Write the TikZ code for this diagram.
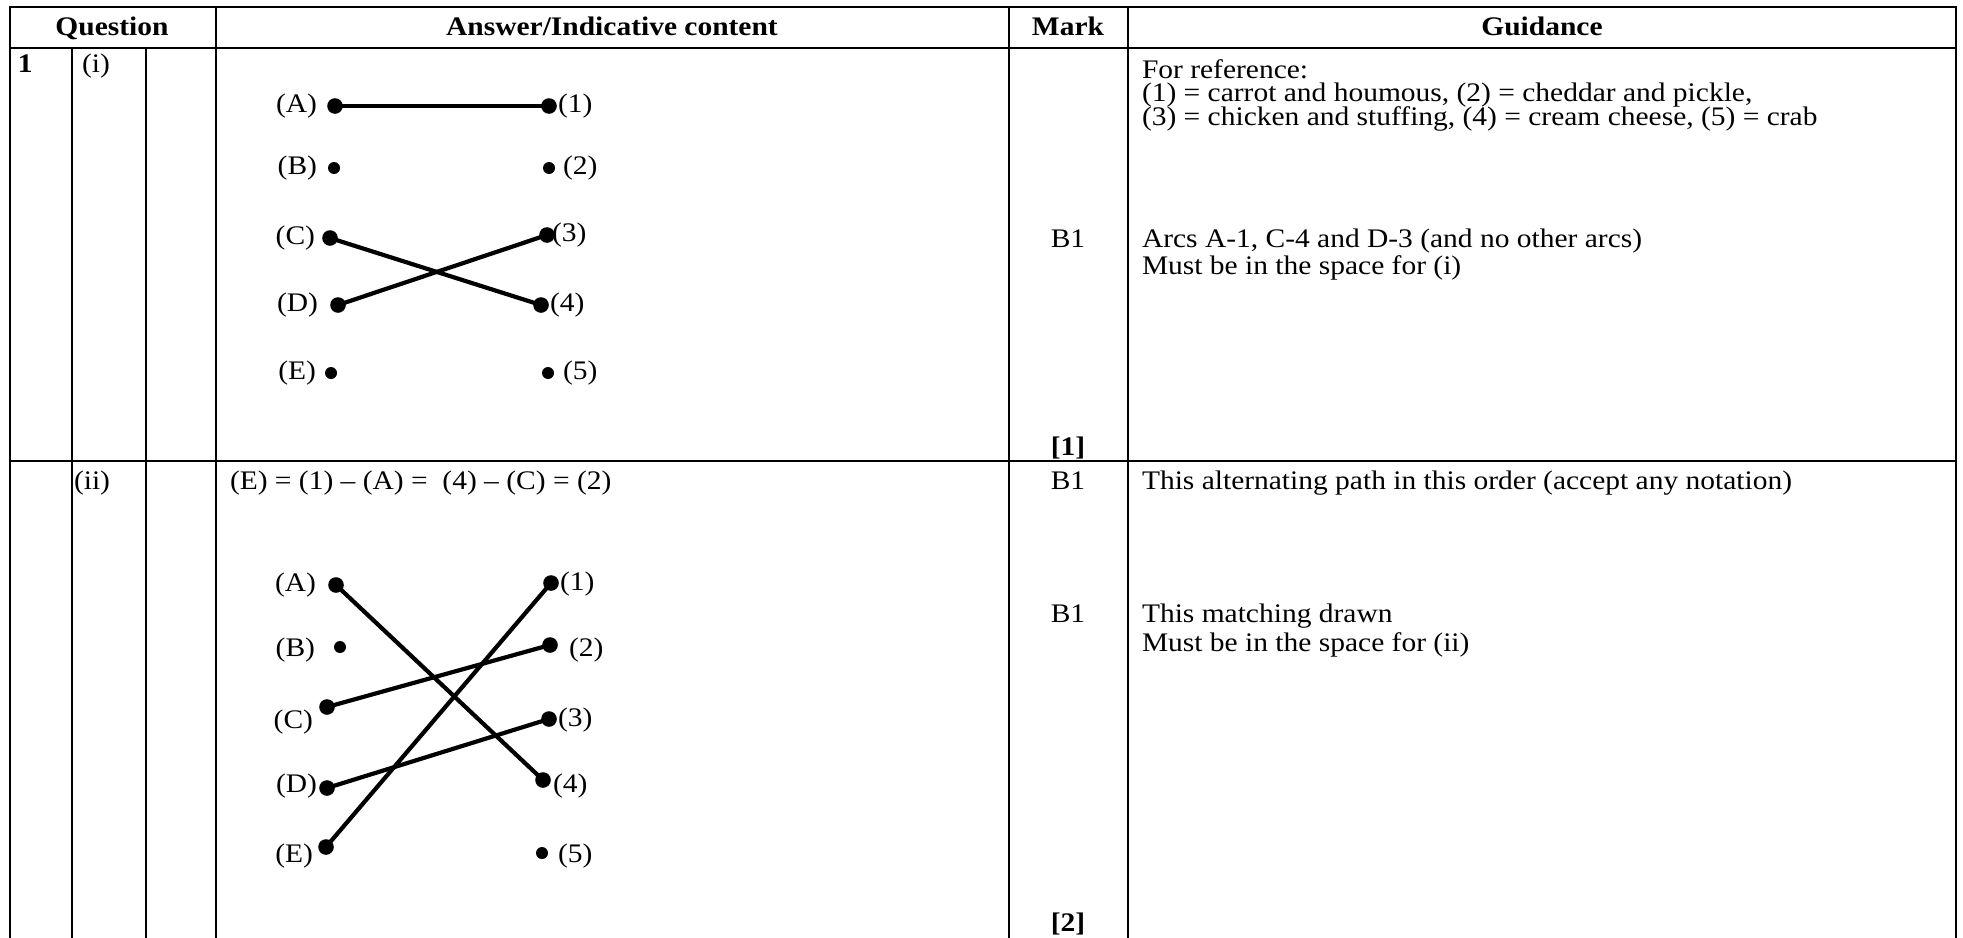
\documentclass[tikz,border=0pt]{standalone}
\usepackage{fontspec}
\setmainfont[FakeStretch=1.1]{Liberation Serif}
\newcommand\mstxt{\fontsize{13.4pt}{11.75pt}\selectfont}
\newcommand\mshead{\fontsize{13.4pt}{11.75pt}\selectfont\bfseries}
\begin{document}
\begin{tikzpicture}[x=0.5pt,y=-0.5pt,
  every node/.style={inner sep=0pt,outer sep=0pt},
  rule/.style={line width=1.45pt,line cap=rect},
  head/.style={anchor=base,font=\mshead},
  txt/.style={anchor=base west,font=\mstxt},
  ctr/.style={anchor=base,font=\mstxt},
  bld/.style={anchor=base,font=\mshead},
  lleft/.style={anchor=base east,font=\mstxt},
  lright/.style={anchor=base west,font=\mstxt},
  bigdot/.style={circle,fill=black,minimum size=7.8pt},
  smalldot/.style={circle,fill=black,minimum size=6pt},
  edge/.style={line width=2.1pt}]
\useasboundingbox (0,0) rectangle (1963,937);
% table rules
\draw[rule] (10,7) -- (1956,7);
\draw[rule] (10,48) -- (1956,48);
\draw[rule] (10,461) -- (1956,461);
\draw[rule] (10,7) -- (10,937);
\draw[rule] (72,48) -- (72,937);
\draw[rule] (146,48) -- (146,937);
\draw[rule] (216,7) -- (216,937);
\draw[rule] (1009,7) -- (1009,937);
\draw[rule] (1128,7) -- (1128,937);
\draw[rule] (1956,7) -- (1956,937);
% header
\node[head] (hq) at (112,35) {Question};
\node[head] (ha) at (612,35) {Answer/Indicative content};
\node[head] (hm) at (1068,35) {Mark};
\node[head] (hg) at (1542,35) {Guidance};
% row (i)
\node[anchor=base west,font=\mshead] (q1) at (18,72) {1};
\node[txt] (qi) at (82,72) {(i)};
\node[txt] (g1) at (1142,78) {For reference:};
\node[txt] (g2) at (1142,101) {(1) = carrot and houmous, (2) = cheddar and pickle,};
\node[txt] (g3) at (1142,125) {(3) = chicken and stuffing, (4) = cream cheese, (5) = crab};
\node[txt] (g4) at (1142,247) {Arcs A-1, C-4 and D-3 (and no other arcs)};
\node[txt] (g5) at (1142,274) {Must be in the space for (i)};
\node[ctr] (m1) at (1068,247) {B1};
\node[bld] (t1) at (1068,455) {[1]};
% diagram (i)
\node[bigdot] (iA) at (335,106) {};
\node[smalldot] (iB) at (334,168) {};
\node[bigdot] (iC) at (330,238) {};
\node[bigdot] (iD) at (338,305) {};
\node[smalldot] (iE) at (331,373) {};
\node[bigdot] (i1) at (549,106) {};
\node[smalldot] (i2) at (549,168) {};
\node[bigdot] (i3) at (547,235) {};
\node[bigdot] (i4) at (541,305) {};
\node[smalldot] (i5) at (548,373) {};
\node[lleft] (liA) at (317,112) {(A)};
\node[lleft] (liB) at (317,174) {(B)};
\node[lleft] (liC) at (315,244) {(C)};
\node[lleft] (liD) at (318,311) {(D)};
\node[lleft] (liE) at (316,379) {(E)};
\node[lright] (li1) at (558,112) {(1)};
\node[lright] (li2) at (563,174) {(2)};
\node[lright] (li3) at (552,241) {(3)};
\node[lright] (li4) at (550,311) {(4)};
\node[lright] (li5) at (563,379) {(5)};
\draw[edge] (iA.center) -- (i1.center);
\draw[edge] (iC.center) -- (i4.center);
\draw[edge] (iD.center) -- (i3.center);
% row (ii)
\node[txt] (qii) at (74,489) {(ii)};
\node[txt] (path) at (230,489) {(E) = (1) – (A) =\ \ (4) – (C) = (2)};
\node[ctr] (m2) at (1068,489) {B1};
\node[txt] (g6) at (1142,489) {This alternating path in this order (accept any notation)};
\node[ctr] (m3) at (1068,622) {B1};
\node[txt] (g7) at (1142,622) {This matching drawn};
\node[txt] (g8) at (1142,651) {Must be in the space for (ii)};
\node[bld] (t2) at (1068,931) {[2]};
% diagram (ii)
\node[bigdot] (jA) at (336,585) {};
\node[smalldot] (jB) at (340,647) {};
\node[bigdot] (jC) at (327,707) {};
\node[bigdot] (jD) at (327,788) {};
\node[bigdot] (jE) at (326,847) {};
\node[bigdot] (j1) at (551,583) {};
\node[bigdot] (j2) at (550,645) {};
\node[bigdot] (j3) at (549,719) {};
\node[bigdot] (j4) at (543,780) {};
\node[smalldot] (j5) at (542,853) {};
\node[lleft] (ljA) at (316,591) {(A)};
\node[lleft] (ljB) at (315,656) {(B)};
\node[lleft] (ljC) at (313,728) {(C)};
\node[lleft] (ljD) at (317,792) {(D)};
\node[lleft] (ljE) at (313,862) {(E)};
\node[lright] (lj1) at (560,590) {(1)};
\node[lright] (lj2) at (569,656) {(2)};
\node[lright] (lj3) at (558,726) {(3)};
\node[lright] (lj4) at (553,792) {(4)};
\node[lright] (lj5) at (558,862) {(5)};
\draw[edge] (jA.center) -- (j4.center);
\draw[edge] (jE.center) -- (j1.center);
\draw[edge] (jC.center) -- (j2.center);
\draw[edge] (jD.center) -- (j3.center);
\end{tikzpicture}
\end{document}
